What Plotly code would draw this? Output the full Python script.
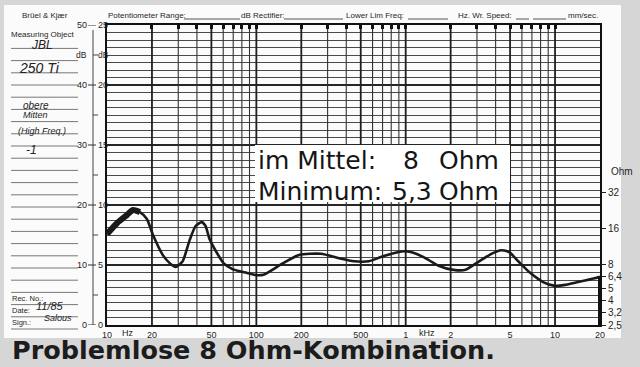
import numpy as np
import plotly.graph_objects as go

# ---------------- data ----------------
freq_hz = [10, 11.7, 13.6, 14.9, 16.6, 18.5, 20.3, 23.6, 26.3, 28.8,
           32.1, 35.8, 39.2, 43.0, 45.7, 48.6, 54.1, 60.3, 69.2, 85.8,
           100, 113, 149, 193, 271, 358, 450, 567, 713, 970,
           1096, 1318, 1660, 2089, 2512, 3067, 3745, 4365, 4935, 5667,
           6813, 8318, 10000, 11660, 14230, 17120, 20000]
impedance_ohm = [14.3, 17.7, 20.6, 22.7, 21.8, 19.1, 14.1, 9.6, 8.2, 7.6,
                 8.5, 12.8, 16.7, 18.0, 16.7, 13.0, 10.1, 8.2, 7.3, 6.8,
                 6.5, 6.6, 8.1, 9.6, 9.8, 9.0, 8.5, 8.5, 9.4, 10.3,
                 10.1, 9.2, 7.8, 7.2, 7.2, 8.4, 9.8, 10.5, 10.1, 8.5,
                 6.8, 5.7, 5.3, 5.4, 5.7, 6.0, 6.3]

x_label_freqs = [10, 20, 50, 100, 200, 500, 1000, 2000, 5000, 10000, 20000]
x_label_text = ["10", "20", "50", "100", "200", "500", "1", "2", "5", "10", "20"]
unit_labels = [("Hz", 13.8), ("kHz", 1380)]

db_outer_ticks = [0, 10, 20, 30, 40, 50]
db_inner_ticks = [0, 5, 10, 15, 20, 25]
ohm_ticks = [2.5, 3.2, 4, 5, 6.4, 8, 16, 32]
ohm_tick_text = ["2,5", "3,2", "4", "5", "6,4", "8", "16", "32"]

title_text = "Problemlose 8 Ohm-Kombination."
box_line1 = ["im Mittel:", "8", "Ohm"]
box_line2 = ["Minimum:", "5,3", "Ohm"]

# ---------------- geometry helpers ----------------
W, H = 640, 367
L, R, T, B = 107, 600, 25, 325


def px(x):
    return (x - L) / (R - L)


def py(y):
    return (B - y) / (B - T)


SANS = "Liberation Sans, Arial, sans-serif"
DEJA = "DejaVu Sans, sans-serif"
INK = "#1f1f1f"

grid_freqs = [m * 10 ** d for d in range(1, 5) for m in range(1, 10) if m * 10 ** d <= 20000]
minor_freqs = [f for f in grid_freqs if f not in x_label_freqs]
x_range = [1, np.log10(20000)]
ohm_range = [np.log10(2.5), np.log10(2.5) + 2.5]

fig = go.Figure()


def vgrid(freqs, width, color):
    xs, ys = [], []
    for f in freqs:
        xs += [f, f, None]
        ys += [0, 50, None]
    fig.add_trace(go.Scatter(x=xs, y=ys, xaxis="x", yaxis="y", mode="lines",
                             line=dict(color=color, width=width), hoverinfo="skip",
                             showlegend=False, connectgaps=False))


vgrid(minor_freqs, 1.1, "#333333")
vgrid(x_label_freqs[1:-1], 1.8, "#1e1e1e")

# impedance curve (pen trace)
fig.add_trace(go.Scatter(x=freq_hz, y=impedance_ohm, xaxis="x", yaxis="y2",
                         mode="lines", line=dict(color="#1a1a1a", width=2.6, shape="spline", smoothing=0.6),
                         hoverinfo="skip", showlegend=False))
fig.add_trace(go.Scatter(x=freq_hz[:5], y=impedance_ohm[:5], xaxis="x", yaxis="y2",
                         mode="lines", line=dict(color="#1a1a1a", width=6, shape="spline", smoothing=0.6),
                         hoverinfo="skip", showlegend=False))
# dummy trace so the top tick-mark axis is drawn
fig.add_trace(go.Scatter(x=[100], y=[0], xaxis="x3", yaxis="y", mode="markers",
                         marker=dict(opacity=0), hoverinfo="skip", showlegend=False))

ann = []


def txt(s, x, y, size=8, anchor="left", family=SANS, color=INK, style="normal"):
    ann.append(dict(text=s, x=px(x), y=py(y), xref="paper", yref="paper",
                    xanchor=anchor, yanchor="middle", showarrow=False,
                    font=dict(size=size, family=family, color=color, style=style)))


shapes = []


def hline(x0, x1, y, color="#555", width=1):
    shapes.append(dict(type="line", xref="paper", yref="paper", x0=px(x0), x1=px(x1),
                       y0=py(y), y1=py(y), line=dict(color=color, width=width)))


# white form sheet over grey halftone background
shapes.append(dict(type="rect", xref="paper", yref="paper", x0=px(4), x1=px(621),
                   y0=py(338), y1=py(5), fillcolor="#fbfbfb", line=dict(width=0), layer="below"))

# header
txt("Brüel & Kjær", 20, 16, 8)
txt("Measuring Object", 9, 34, 8)
txt("Potentiometer Range:", 106, 16, 8)
hline(184, 240, 19)
txt("dB Rectifier:", 239, 16, 8)
hline(284, 343, 19)
txt("Lower Lim Freq:", 344, 16, 8)
hline(408, 448, 19)
txt("Hz. Wr. Speed:", 456, 16, 8)
hline(516, 529, 19)
hline(533, 566, 19)
txt("mm/sec.", 566, 16, 8)

# left form rules
for k in range(24):
    hline(11, 78, 48.4 + 12.2 * k, color="#777", width=1)

# handwritten entries
txt("JBL", 29, 45, 12, style="italic", color="#222")
txt("250 Ti", 17, 68, 14, style="italic", color="#222")
txt("obere", 21, 105, 10, style="italic", color="#222")
txt("Mitten", 21, 115, 9, style="italic", color="#222")
txt("(High Freq.)", 16, 131, 9, style="italic", color="#222")
txt("-1", 24, 150, 12, style="italic", color="#222")
txt("Rec. No.:", 10, 298, 7.5)
txt("Date:", 10, 310, 7.5)
txt("11/85", 34, 306, 11, style="italic", color="#222")
txt("Sign.:", 10, 322, 7.5)
txt("Salous", 42, 318, 9, style="italic", color="#222")

# left dB scales
shapes.append(dict(type="line", xref="paper", yref="paper", x0=px(93), x1=px(93), y0=0, y1=py(30),
                   line=dict(color="#444", width=1)))
for o, i in zip(db_outer_ticks, db_inner_ticks):
    ann.append(dict(text=str(o), x=px(89), y=o, xref="paper", yref="y", xanchor="right",
                    yanchor="middle", showarrow=False, font=dict(size=9, family=SANS, color=INK)))
    ann.append(dict(text=str(i), x=px(96), y=o, xref="paper", yref="y", xanchor="left",
                    yanchor="middle", showarrow=False, font=dict(size=9, family=SANS, color=INK)))
    shapes.append(dict(type="line", xref="paper", yref="y", x0=px(88), x1=px(96), y0=o, y1=o,
                       line=dict(color="#333", width=1)))
for m in [5, 15, 25, 35, 45]:
    shapes.append(dict(type="line", xref="paper", yref="y", x0=px(93), x1=px(98), y0=m, y1=m,
                       line=dict(color="#444", width=1)))
ann.append(dict(text="dB", x=px(89), y=45, xref="paper", yref="y", xanchor="right", yanchor="middle",
                showarrow=False, font=dict(size=8.5, family=SANS, color=INK)))
ann.append(dict(text="dB", x=px(96), y=45, xref="paper", yref="y", xanchor="left", yanchor="middle",
                showarrow=False, font=dict(size=8.5, family=SANS, color=INK)))

# frequency unit labels
for s, f in unit_labels:
    ann.append(dict(text=s, x=np.log10(f), y=py(333), xref="x", yref="paper", xanchor="center",
                    yanchor="middle", showarrow=False, font=dict(size=9, family=SANS, color=INK)))

# right axis title
txt("Ohm", 609, 171, 10)

# pen bar at the right end of the curve
end_db = 20 * np.log10(impedance_ohm[-1] / 2.5)
shapes.append(dict(type="line", xref="paper", yref="y", x0=1, x1=1, y0=0, y1=end_db,
                   line=dict(color="#111", width=4)))

# text box
shapes.append(dict(type="rect", xref="paper", yref="paper", x0=px(255), x1=px(510),
                   y0=py(202), y1=py(145), fillcolor="#ffffff", line=dict(width=0), layer="above"))
for parts, yy, xs in [(box_line1, 160, [256, 401, 437]), (box_line2, 191, [256, 390, 437])]:
    for s, xx in zip(parts, xs):
        txt(s, xx, yy, 25, family=DEJA, color="#151515")

# title
txt("<b>" + title_text + "</b>", 10, 350, 25.5, family=DEJA, color="#1c1c1c")

fig.update_layout(
    width=W, height=H,
    margin=dict(l=L, r=W - R, t=T, b=H - B),
    paper_bgcolor="#d6d6d6",
    plot_bgcolor="#ffffff",
    showlegend=False,
    annotations=ann,
    shapes=shapes,
    xaxis=dict(type="log", range=x_range, tickvals=x_label_freqs, ticktext=x_label_text,
               showgrid=False, ticks="", showline=True, linecolor="#111", linewidth=2, mirror=True,
               zeroline=False, tickfont=dict(size=9, family=SANS, color=INK)),
    xaxis3=dict(type="log", range=x_range, overlaying="x", side="top", anchor="y",
                tickvals=grid_freqs, ticks="inside", ticklen=4, tickwidth=3, tickcolor="#111",
                showticklabels=False, showgrid=False, zeroline=False, showline=False),
    yaxis=dict(range=[0, 50], tickvals=db_outer_ticks, showticklabels=False,
               showgrid=True, gridcolor="#262626", gridwidth=1.6,
               minor=dict(tick0=0, dtick=1.25, showgrid=True, gridcolor="#4a4a4a", gridwidth=1, ticks=""),
               ticks="", showline=True, linecolor="#111", linewidth=2, mirror=True, zeroline=False),
    yaxis2=dict(type="log", range=ohm_range, overlaying="y", side="right", anchor="x",
                tickvals=ohm_ticks, ticktext=ohm_tick_text, ticks="outside", ticklen=5,
                tickcolor="#222", showgrid=False, zeroline=False, showline=False,
                tickfont=dict(size=10, family=SANS, color=INK)),
)

fig.write_html("out.html", config={"displayModeBar": False},
               post_script="document.body.style.margin='0';document.body.style.overflow='hidden';")
